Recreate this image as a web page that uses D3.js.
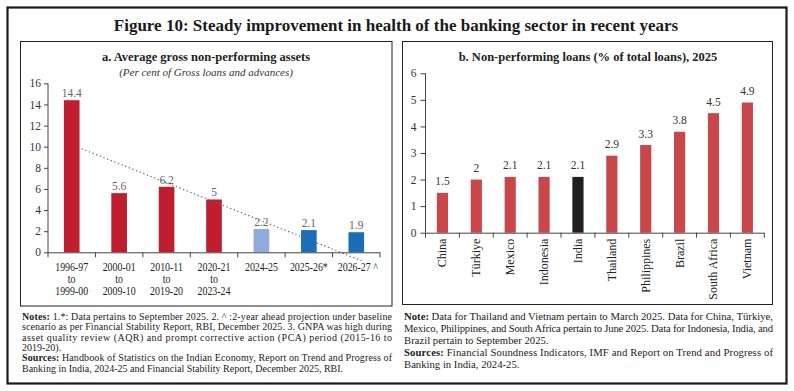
<!DOCTYPE html>
<html><head><meta charset="utf-8">
<script src="https://cdn.jsdelivr.net/npm/d3@7/dist/d3.min.js"></script>
<style>
html,body{margin:0;padding:0;background:#fff;}
svg text{font-family:"Liberation Serif","DejaVu Serif",serif;}
</style></head>
<body>
<svg id="chart" width="794" height="391"></svg>
<script>
// ---------- DATA ----------
const figTitle = "Figure 10: Steady improvement in health of the banking sector in recent years";

const aTitle = "a. Average gross non-performing assets";
const aSubtitle = "(Per cent of Gross loans and advances)";
const aCategories = [
  ["1996-97","to","1999-00"],
  ["2000-01","to","2009-10"],
  ["2010-11","to","2019-20"],
  ["2020-21","to","2023-24"],
  ["2024-25"],
  ["2025-26*"],
  ["2026-27 ^"]
];
const aValues = [14.4, 5.6, 6.2, 5, 2.2, 2.1, 1.9];
const aColorKeys = ["past","past","past","past","recent","proj","proj"];
const aTicks = [0, 2, 4, 6, 8, 10, 12, 14, 16];
// dotted trend line: [category position, value]
const aTrend = [[0.21, 9.8], [6.11, -0.8]];

const bTitle = "b. Non-performing loans (% of total loans), 2025";
const bCategories = ["China","Türkiye","Mexico","Indonesia","India","Thailand","Philippines","Brazil","South Africa","Vietnam"];
const bValues = [1.5, 2, 2.1, 2.1, 2.1, 2.9, 3.3, 3.8, 4.5, 4.9];
const bLabels = ["1.5","2","2.1","2.1","2.1","2.9","3.3","3.8","4.5","4.9"];
const bHighlight = "India";
const bTicks = [0, 1, 2, 3, 4, 5, 6];

const aNotes = [
  {b:"Notes:", t:" 1.*: Data pertains to September 2025. 2.  ^ :2-year ahead projection under baseline", j:true},
  {b:"", t:"scenario as per Financial Stability Report, RBI, December 2025. 3. GNPA was high during", j:true},
  {b:"", t:"asset quality review (AQR) and prompt corrective action (PCA) period (2015-16 to", j:true},
  {b:"", t:"2019-20).", j:false},
  {b:"Sources:", t:" Handbook of Statistics on the Indian Economy, Report on Trend and Progress of", j:true},
  {b:"", t:"Banking in India, 2024-25 and Financial Stability Report, December 2025, RBI.", j:false}
];
const bNotes = [
  {b:"Note:", t:" Data for Thailand and Vietnam pertain to March 2025. Data for China, Türkiye,", j:true},
  {b:"", t:"Mexico, Philippines, and South Africa pertain to June 2025. Data for Indonesia, India, and", j:true},
  {b:"", t:"Brazil pertain to September 2025.", j:false},
  {b:"Sources:", t:" Financial Soundness Indicators, IMF and Report on Trend and Progress of", j:true},
  {b:"", t:"Banking in India, 2024-25.", j:false}
];

// ---------- STYLE ----------
const colors = {past:"#BE1E2D", recent:"#8FAADC", proj:"#1B6EB5", bBar:"#C8474B", bHi:"#231F20"};
const svg = d3.select("#chart");

function condense(sel, f){
  sel.each(function(){
    const L = this.getComputedTextLength();
    d3.select(this).attr("textLength", L*f).attr("lengthAdjust","spacingAndGlyphs");
  });
}

// outer frame
svg.append("rect").attr("x",7.5).attr("y",7.5).attr("width",779).attr("height",376)
  .attr("fill","none").attr("stroke","#1a1a1a").attr("stroke-width",2.2);

svg.append("text").attr("x",396).attr("y",31).attr("text-anchor","middle")
  .attr("font-size",17).attr("font-weight","bold").attr("fill","#1a1a1a").text(figTitle);

// panel boxes
svg.append("rect").attr("x",20.5).attr("y",41.5).attr("width",371.5).attr("height",264.5)
  .attr("fill","none").attr("stroke","#222").attr("stroke-width",1);
svg.append("rect").attr("x",402.5).attr("y",41.5).attr("width",370).attr("height",263)
  .attr("fill","none").attr("stroke","#222").attr("stroke-width",1);

// ---------- PANEL A ----------
{
  const x0 = 48, x1 = 380, yTop = 83.3, yBot = 252.3;
  const x = d3.scaleBand().domain(d3.range(aValues.length)).range([x0, x1]).padding(0);
  const y = d3.scaleLinear().domain([0, 16]).range([yBot, yTop]);
  const xc = p => x0 + (p + 0.5) * x.step();
  const g = svg.append("g");

  g.append("text").attr("x",206).attr("y",61).attr("text-anchor","middle")
    .attr("font-size",12.5).attr("font-weight","bold").attr("fill","#222").text(aTitle);
  g.append("text").attr("x",206).attr("y",75.5).attr("text-anchor","middle")
    .attr("font-size",11).attr("font-style","italic").attr("fill","#333").text(aSubtitle);

  const ya = g.append("g").attr("transform",`translate(${x0},0)`)
    .call(d3.axisLeft(y).tickValues(aTicks).tickSize(4).tickPadding(3).tickFormat(d3.format("d")));
  ya.select(".domain").attr("stroke","#444").attr("d",`M0,${yBot}V${yTop}`);
  ya.selectAll(".tick line").attr("stroke","#444");
  ya.selectAll(".tick text").attr("font-size",11.5).attr("fill","#333")
    .attr("font-family","Liberation Serif, serif");

  // bars
  const bw = x.step() * 0.33;
  g.selectAll("rect.bar").data(aValues).join("rect")
    .attr("x",(d,i)=>xc(i)-bw/2).attr("width",bw)
    .attr("y",d=>y(d)).attr("height",d=>y(0)-y(d))
    .attr("fill",(d,i)=>colors[aColorKeys[i]]);

  // trend line
  g.append("line")
    .attr("x1",xc(aTrend[0][0])).attr("y1",y(aTrend[0][1]))
    .attr("x2",xc(aTrend[1][0])).attr("y2",y(aTrend[1][1]))
    .attr("stroke","#5a6a86").attr("stroke-width",1.2).attr("stroke-dasharray","1.3 2.6");

  // x axis
  g.append("line").attr("x1",x0).attr("x2",x1).attr("y1",yBot+0.5).attr("y2",yBot+0.5)
    .attr("stroke","#444");
  d3.range(aValues.length+1).forEach(i=>{
    g.append("line").attr("x1",x0+i*x.step()).attr("x2",x0+i*x.step())
      .attr("y1",yBot).attr("y2",yBot+5).attr("stroke","#444");
  });

  // data labels
  g.selectAll("text.lab").data(aValues).join("text")
    .attr("x",(d,i)=>xc(i)).attr("y",d=>y(d)-3).attr("text-anchor","middle")
    .attr("font-size",11.5).attr("fill","#666").text(d=>d);

  // category labels
  aCategories.forEach((lines,i)=>{
    lines.forEach((l,k)=>{
      const t = g.append("text").attr("class","cat").attr("x",xc(i)+(i===6?1.5:0)).attr("y",270.5+k*12)
        .attr("text-anchor","middle")
        .attr("font-size",11.5).attr("fill","#222").text(l);
      condense(t, 0.86);
    });
  });
}

// ---------- PANEL B ----------
{
  const x0 = 425.5, x1 = 764.3, yTop = 73.3, yBot = 232.7;
  const x = d3.scaleBand().domain(bCategories).range([x0, x1]).padding(0);
  const y = d3.scaleLinear().domain([0, 6]).range([yBot, yTop]);
  const xc = c => x(c) + x.bandwidth()/2;
  const g = svg.append("g");

  g.append("text").attr("x",588).attr("y",61).attr("text-anchor","middle")
    .attr("font-size",12.5).attr("font-weight","bold").attr("fill","#222").text(bTitle);

  const ya = g.append("g").attr("transform",`translate(${x0},0)`)
    .call(d3.axisLeft(y).tickValues(bTicks).tickSize(5).tickPadding(4).tickFormat(d3.format("d")));
  ya.select(".domain").attr("stroke","#444").attr("d",`M0,${yBot}V${yTop}`);
  ya.selectAll(".tick line").attr("stroke","#444");
  ya.selectAll(".tick text").attr("font-size",11.5).attr("fill","#333")
    .attr("font-family","Liberation Serif, serif");

  const bw = x.step() * 0.33;
  g.selectAll("rect.bar").data(bValues).join("rect")
    .attr("x",(d,i)=>xc(bCategories[i])-bw/2).attr("width",bw)
    .attr("y",d=>y(d)).attr("height",d=>y(0)-y(d))
    .attr("fill",(d,i)=>bCategories[i]===bHighlight?colors.bHi:colors.bBar);

  g.append("line").attr("x1",x0).attr("x2",x1).attr("y1",yBot+0.5).attr("y2",yBot+0.5)
    .attr("stroke","#444");
  d3.range(bCategories.length+1).forEach(i=>{
    g.append("line").attr("x1",x0+i*x.step()).attr("x2",x0+i*x.step())
      .attr("y1",yBot).attr("y2",yBot+5).attr("stroke","#444");
  });

  g.selectAll("text.lab").data(bValues).join("text")
    .attr("x",(d,i)=>xc(bCategories[i])).attr("y",d=>y(d)-7.5).attr("text-anchor","middle")
    .attr("font-size",11.5).attr("fill","#333").text((d,i)=>bLabels[i]);

  bCategories.forEach(c=>{
    g.append("text")
      .attr("transform",`translate(${xc(c)+4},${yBot+6}) rotate(-90)`)
      .attr("text-anchor","end").attr("font-size",12).attr("fill","#222").text(c);
  });
}

// ---------- NOTES ----------
function notes(arr, left, right, y0, dy, fs){
  arr.forEach((n,i)=>{
    const t = svg.append("text").attr("x",left).attr("y",y0+i*dy)
      .attr("font-size",fs).attr("fill","#222");
    if(n.b) t.append("tspan").attr("font-weight","bold").text(n.b);
    t.append("tspan").text(n.t);
    if(n.j){
      t.attr("textLength", right-left).attr("lengthAdjust","spacing");
    }
  });
}
notes(aNotes, 22, 392, 320, 10.3, 10);
notes(bNotes, 404, 773, 320, 12, 10.7);
</script>
</body></html>
